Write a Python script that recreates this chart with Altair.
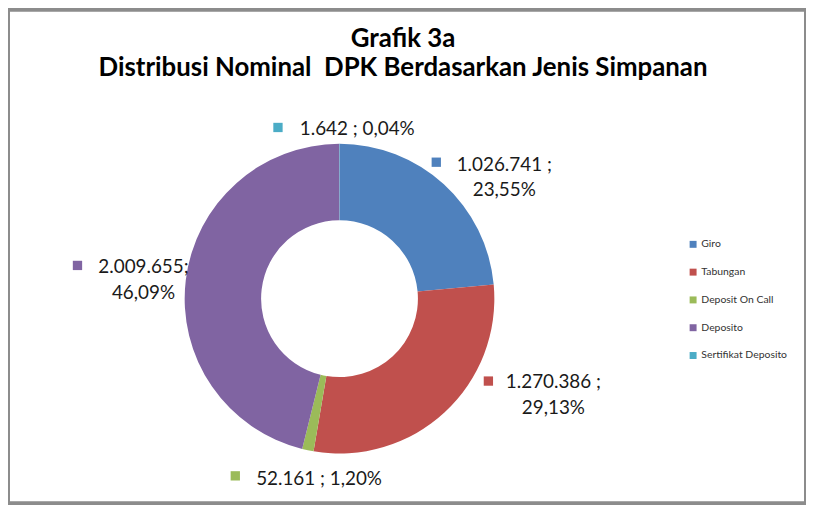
import altair as alt
import pandas as pd

# ---- data ----
categories = ["Giro", "Tabungan", "Deposit On Call", "Deposito", "Sertifikat Deposito"]
nominal = [1026741, 1270386, 52161, 2009655, 1642]
nominal_labels = ["1.026.741", "1.270.386", "52.161", "2.009.655", "1.642"]
percent_labels = ["23,55%", "29,13%", "1,20%", "46,09%", "0,04%"]
label_sep = [" ;\n", " ;\n", " ; ", ";\n", " ; "]
title_lines = ["Grafik 3a", "Distribusi Nominal\u00a0 DPK Berdasarkan Jenis Simpanan"]
colors = ["#4F81BD", "#C0504D", "#9BBB59", "#8064A2", "#4BACC6"]

df = pd.DataFrame({
    "category": categories,
    "value": nominal,
    "idx": list(range(len(categories))),
    "label": [n + s + p for n, s, p in zip(nominal_labels, label_sep, percent_labels)],
})

color_scale = alt.Scale(domain=categories, range=colors)
FONT = "Lato"
CX, CY = 334, 291

donut = alt.Chart(df).mark_arc(outerRadius=156, innerRadius=79).encode(
    theta=alt.Theta("value:Q", stack=True),
    order=alt.Order("idx:Q"),
    color=alt.Color(
        "category:N",
        scale=color_scale,
        legend=alt.Legend(
            orient="none", legendX=685, legendY=231, title=None,
            symbolType="square", symbolSize=49, symbolStrokeWidth=0,
            labelFont=FONT, labelFontSize=10.5, labelColor="#333333",
            rowPadding=17, labelOffset=3, padding=0,
        ),
    ),
    x=alt.value(CX),
    y=alt.value(CY),
)

# annotation layout (chart pixels): marker centre, text anchor, alignment
layout = {
    "Giro": dict(sq=(431.5, 153.5), tx=(500, 162), align="center"),
    "Tabungan": dict(sq=(484, 374), tx=(549.5, 381), align="center"),
    "Deposit On Call": dict(sq=(229, 469.5), tx=(250, 479), align="left"),
    "Deposito": dict(sq=(70, 257.5), tx=(136.5, 265), align="center"),
    "Sertifikat Deposito": dict(sq=(272, 118.5), tx=(294, 126), align="left"),
}

layers = [donut]
for cat in categories:
    lay = layout[cat]
    base = alt.Chart(df).transform_filter(alt.datum.category == cat)
    layers.append(
        base.mark_square(size=88, opacity=1).encode(
            x=alt.value(lay["sq"][0]), y=alt.value(lay["sq"][1]),
            color=alt.Color("category:N", scale=color_scale, legend=None),
        )
    )
    layers.append(
        base.mark_text(
            font=FONT, fontSize=19, color="#1a1a1a", align=lay["align"],
            baseline="alphabetic", lineBreak="\n", lineHeight=26,
        ).encode(
            x=alt.value(lay["tx"][0]), y=alt.value(lay["tx"][1]), text="label:N"
        )
    )

title_df = pd.DataFrame({"line": title_lines, "n": [0, 1]})
for i, line in enumerate(title_lines):
    layers.append(
        alt.Chart(title_df).transform_filter(alt.datum.n == i).mark_text(
            font=FONT, fontSize=26, fontWeight="bold", color="#000000",
            align="center", baseline="alphabetic",
        ).encode(x=alt.value(398), y=alt.value(37 + 30 * i), text="line:N")
    )

chart = alt.layer(*layers).properties(
    width=804, height=497, padding=0, autosize=alt.AutoSizeParams(type="none")
).configure_view(stroke="#8c8c8c", strokeWidth=4)

chart.save("out.html", embed_options={"renderer": "svg", "actions": False})
